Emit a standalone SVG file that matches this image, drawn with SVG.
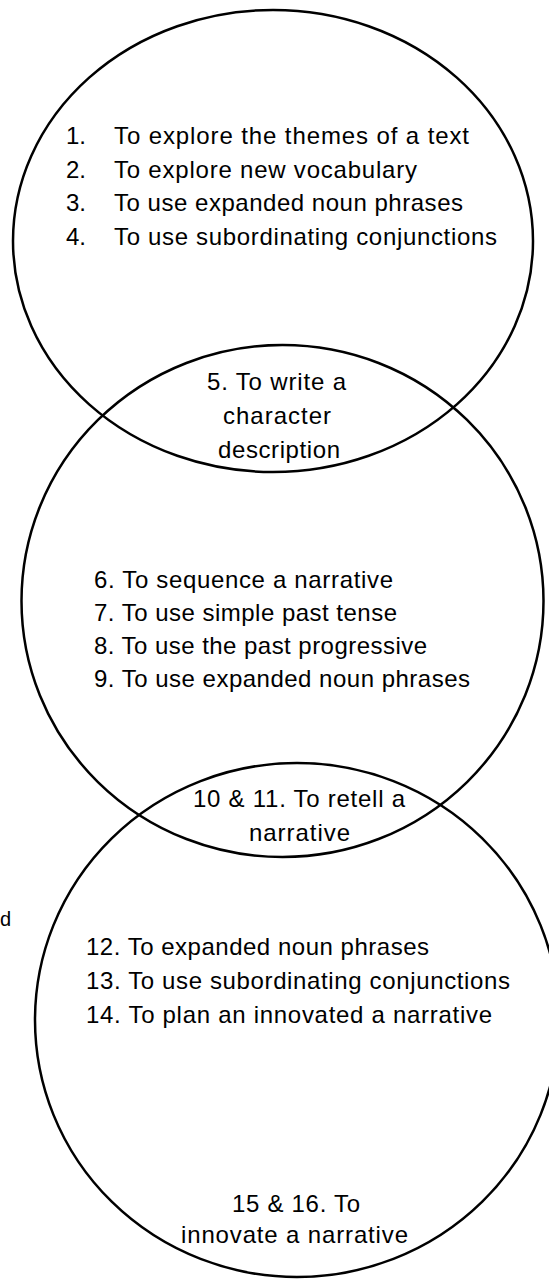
<svg xmlns="http://www.w3.org/2000/svg" width="549" height="1279" viewBox="0 0 549 1279">
<style>
.e{fill:none;stroke:#000;stroke-width:2.5}
.t{font-family:"Liberation Sans",Arial,sans-serif;font-size:24px;fill:#000}
</style>
<rect width="549" height="1279" fill="#fff"/>
<g id="circle1">
<ellipse class="e" cx="273" cy="241" rx="260" ry="231"/>
<text class="t" x="66" y="144">1.</text>
<text class="t" x="114" y="144" textLength="355" lengthAdjust="spacing">To explore the themes of a text</text>
<text class="t" x="66" y="178">2.</text>
<text class="t" x="114" y="178" textLength="303" lengthAdjust="spacing">To explore new vocabulary</text>
<text class="t" x="66" y="211">3.</text>
<text class="t" x="114" y="211" textLength="349" lengthAdjust="spacing">To use expanded noun phrases</text>
<text class="t" x="66" y="245">4.</text>
<text class="t" x="114" y="245" textLength="383" lengthAdjust="spacing">To use subordinating conjunctions</text>
</g>
<g id="overlap1">
<text class="t" x="207" y="390" textLength="139" lengthAdjust="spacing">5. To write a</text>
<text class="t" x="223" y="424" textLength="108" lengthAdjust="spacing">character</text>
<text class="t" x="218" y="458" textLength="122" lengthAdjust="spacing">description</text>
</g>
<g id="circle2">
<ellipse class="e" cx="282.5" cy="601" rx="261" ry="256"/>
<text class="t" x="94" y="588" textLength="299" lengthAdjust="spacing">6. To sequence a narrative</text>
<text class="t" x="94" y="621" textLength="303" lengthAdjust="spacing">7. To use simple past tense</text>
<text class="t" x="94" y="654" textLength="333" lengthAdjust="spacing">8. To use the past progressive</text>
<text class="t" x="94" y="687" textLength="376" lengthAdjust="spacing">9. To use expanded noun phrases</text>
</g>
<g id="overlap2">
<text class="t" x="193" y="807" textLength="212" lengthAdjust="spacing">10 &amp; 11. To retell a</text>
<text class="t" x="249" y="841" textLength="101" lengthAdjust="spacing">narrative</text>
</g>
<g id="circle3">
<ellipse class="e" cx="297" cy="1020" rx="262" ry="257"/>
<text class="t" x="86" y="955" textLength="343" lengthAdjust="spacing">12. To expanded noun phrases</text>
<text class="t" x="86" y="989" textLength="424" lengthAdjust="spacing">13. To use subordinating conjunctions</text>
<text class="t" x="86" y="1023" textLength="406" lengthAdjust="spacing">14. To plan an innovated a narrative</text>
<text class="t" x="232" y="1212" textLength="128" lengthAdjust="spacing">15 &amp; 16. To</text>
<text class="t" x="181" y="1243" textLength="227" lengthAdjust="spacing">innovate a narrative</text>
</g>
<g id="fragment">
<text class="t" x="0" y="926" style="font-size:20px">d</text>
</g>
</svg>
